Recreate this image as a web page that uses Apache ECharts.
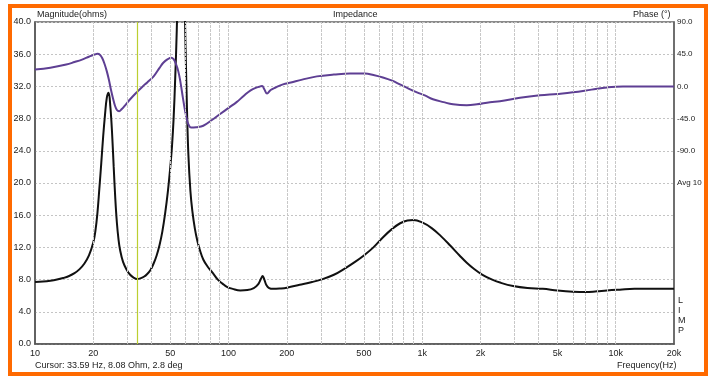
<!DOCTYPE html>
<html>
<head>
<meta charset="utf-8">
<script src="https://cdn.jsdelivr.net/npm/echarts@6/dist/echarts.min.js"></script>
<style>
  html, body { margin: 0; padding: 0; background: #fff; }
  #main { width: 714px; height: 379px; }
</style>
</head>
<body>
<div id="main"></div>
<script>
// magnitude curve (ohms)
var magFreq = [10, 11, 12, 13, 14, 15, 16, 17, 18, 19, 20, 20.5, 21, 21.5, 22, 22.5, 23, 23.5, 24, 24.5,
  25, 25.5, 26, 26.5, 27, 27.5, 28.5, 29.8, 31, 32.3, 33.6, 35, 36.5, 38, 39.5, 41, 42.5, 44, 45.5, 47,
  48.5, 50, 51, 52, 53, 54, 55, 56, 57, 58, 59, 60, 61, 62, 63.5, 65, 67, 69, 71, 74, 78, 83, 88, 93,
  98, 105, 115, 125, 135, 142, 147, 150, 153, 157, 162, 170, 185, 200, 233, 270, 300, 350, 400, 450,
  500, 560, 630, 700, 770, 840, 900, 1000, 1120, 1250, 1400, 1560, 1700, 1850, 2050, 2300, 2550, 2950,
  3500, 4200, 5000, 6000, 7000, 8000, 9000, 10500, 12500, 15000, 20000];
var magOhm = [7.7, 7.75, 7.85, 8.0, 8.2, 8.45, 8.8, 9.3, 10.0, 11.0, 12.6, 14.0, 16.2, 19.3, 22.5, 25.8,
  28.5, 30.6, 31.2, 29.5, 26.3, 22.0, 18.0, 15.0, 13.0, 11.7, 10.2, 9.2, 8.6, 8.25, 8.08, 8.15, 8.35, 8.7,
  9.2, 10.0, 11.0, 12.3, 14.0, 16.2, 18.8, 22.0, 24.5, 28.0, 33.0, 39.0, 47.0, 54.0, 57.0, 53.0, 45.0,
  36.5, 29.0, 23.5, 19.0, 16.5, 14.3, 12.8, 11.7, 10.5, 9.6, 8.8, 8.0, 7.5, 7.1, 6.85, 6.65, 6.7, 6.95,
  7.4, 8.1, 8.45, 8.0, 7.3, 6.95, 6.85, 6.9, 7.0, 7.35, 7.7, 8.0, 8.6, 9.4, 10.2, 11.0, 12.0, 13.3, 14.3,
  15.0, 15.35, 15.4, 15.1, 14.4, 13.4, 12.2, 11.0, 10.1, 9.35, 8.6, 8.0, 7.6, 7.2, 6.95, 6.85, 6.65, 6.5,
  6.45, 6.55, 6.65, 6.75, 6.85, 6.85, 6.85];

// phase curve (deg)
var phaseFreq = [10, 12, 14.5, 16, 17.5, 19, 20.3, 21, 21.7, 22.3, 22.9, 23.5, 24.1, 24.7, 25.3, 25.9,
  26.5, 27.2, 28, 29.5, 31, 33.6, 36, 38, 41, 44, 46, 48.5, 50.5, 52, 53.5, 55, 56.5, 58, 59.5, 61, 62.5,
  64, 68, 74, 82, 90, 100, 110, 120, 130, 140, 146, 149, 153, 158, 165, 175, 191, 210, 240, 286, 350,
  424, 506, 560, 627, 700, 768, 850, 940, 1040, 1137, 1290, 1443, 1700, 1919, 2240, 2523, 3200, 4060,
  5000, 6012, 7500, 9006, 10894, 20000];
var phaseDeg = [23.5, 26, 30.5, 34, 37.5, 41.5, 44.5, 45.5, 44, 39, 31, 21, 9, -5, -17, -27,
  -33, -34.6, -32, -25, -18, -8, 0, 5.5, 14, 26, 33, 38, 40, 38, 31, 21, 5, -15, -33, -47, -55,
  -57.5, -57, -55, -47, -39, -30, -22, -13, -5.5, -1.4, 0, 0.5, -4, -10, -5, -1.5, 2.8, 5.5, 9.5, 14, 16.5,
  18, 18, 16, 12.5, 8, 2.8, -3, -8.3, -13, -18, -22, -25, -26.3, -25, -22, -20.8, -16, -12.5,
  -10.5, -8.3, -4.5, -1.4, 0, 0];

var freqTicks = [10, 20, 50, 100, 200, 500, 1000, 2000, 5000, 10000, 20000];
var gridFreqs = [20, 30, 40, 50, 60, 70, 80, 90, 100, 200, 300, 400, 500, 600, 700, 800, 900, 1000,
  2000, 3000, 4000, 5000, 6000, 7000, 8000, 9000, 10000];
var cursorFreq = 33.59;

var chart = echarts.init(document.getElementById('main'));
var font = 'Liberation Sans, Arial, sans-serif';

function zip(a, b) {
  return a.map(function (v, i) { return [v, b[i]]; });
}

var option = {
  backgroundColor: '#fff',
  animation: false,
  grid: {
    left: 35, top: 22, right: 40, bottom: 35,
    show: true, borderColor: '#666', borderWidth: 1.5
  },
  xAxis: {
    type: 'log', logBase: 10, min: 10, max: 20000,
    axisLine: { lineStyle: { color: '#555', width: 1.5 } },
    axisTick: { show: false },
    splitLine: { show: false },
    axisLabel: {
      customValues: freqTicks,
      margin: 5,
      fontFamily: font, fontSize: 9, color: '#222',
      formatter: function (v) { return v >= 1000 ? (v / 1000) + 'k' : String(v); }
    }
  },
  yAxis: [{
    type: 'value', min: 0, max: 40, interval: 4,
    axisLine: { show: true, lineStyle: { color: '#555', width: 1.5 } },
    axisTick: { show: false },
    axisLabel: { margin: 4, fontFamily: font, fontSize: 9, color: '#222',
      formatter: function (v) { return v.toFixed(1); } },
    splitLine: { lineStyle: { color: '#c4c4c4', type: [2, 2], width: 1 } }
  }, {
    type: 'value', min: -360, max: 90, interval: 45, position: 'right',
    axisLine: { show: true, lineStyle: { color: '#666', width: 1.5 } },
    axisTick: { show: false },
    splitLine: { show: false },
    axisLabel: { margin: 3, fontFamily: font, fontSize: 8, color: '#222',
      formatter: function (v) {
        if (v >= -90) return v.toFixed(1);
        if (v === -135) return 'Avg 10';
        return '';
      } }
  }],
  graphic: [
    { type: 'rect', shape: { x: 10, y: 6, width: 696, height: 368 },
      style: { fill: 'none', stroke: '#ff6a00', lineWidth: 4 }, z: 100 },
    { type: 'text', left: 37, top: 10, style: { text: 'Magnitude(ohms)', font: '9px ' + font, fill: '#222' } },
    { type: 'text', left: 333, top: 10, style: { text: 'Impedance', font: '9px ' + font, fill: '#222' } },
    { type: 'text', left: 633, top: 10, style: { text: 'Phase (°)', font: '9px ' + font, fill: '#222' } },
    { type: 'text', left: 35, top: 361, style: { text: 'Cursor: 33.59 Hz, 8.08 Ohm, 2.8 deg', font: '9px ' + font, fill: '#222' } },
    { type: 'text', left: 617, top: 361, style: { text: 'Frequency(Hz)', font: '9px ' + font, fill: '#222' } },
    { type: 'text', left: 678, top: 296, style: { text: 'L\nI\nM\nP', font: '9px ' + font, fill: '#222', lineHeight: 10 } }
  ],
  series: [{
    name: 'grid',
    type: 'line',
    data: [],
    z: 1,
    markLine: {
      silent: true, symbol: 'none', animation: false,
      label: { show: false },
      lineStyle: { color: '#c8c8c8', type: [3, 1], width: 1 },
      data: gridFreqs.map(function (f) { return { xAxis: f }; })
        .concat([{ xAxis: cursorFreq, lineStyle: { color: '#bccf30', type: 'solid', width: 1.2 } }])
    }
  }, {
    name: 'Magnitude',
    type: 'line',
    yAxisIndex: 0,
    data: zip(magFreq, magOhm),
    smooth: 0.4,
    symbol: 'none',
    clip: true,
    z: 3,
    lineStyle: { color: '#111', width: 2 }
  }, {
    name: 'Phase',
    type: 'line',
    yAxisIndex: 1,
    data: zip(phaseFreq, phaseDeg),
    smooth: 0.4,
    symbol: 'none',
    clip: true,
    z: 3,
    lineStyle: { color: '#5e3f93', width: 2 }
  }]
};

chart.setOption(option);
</script>
</body>
</html>
